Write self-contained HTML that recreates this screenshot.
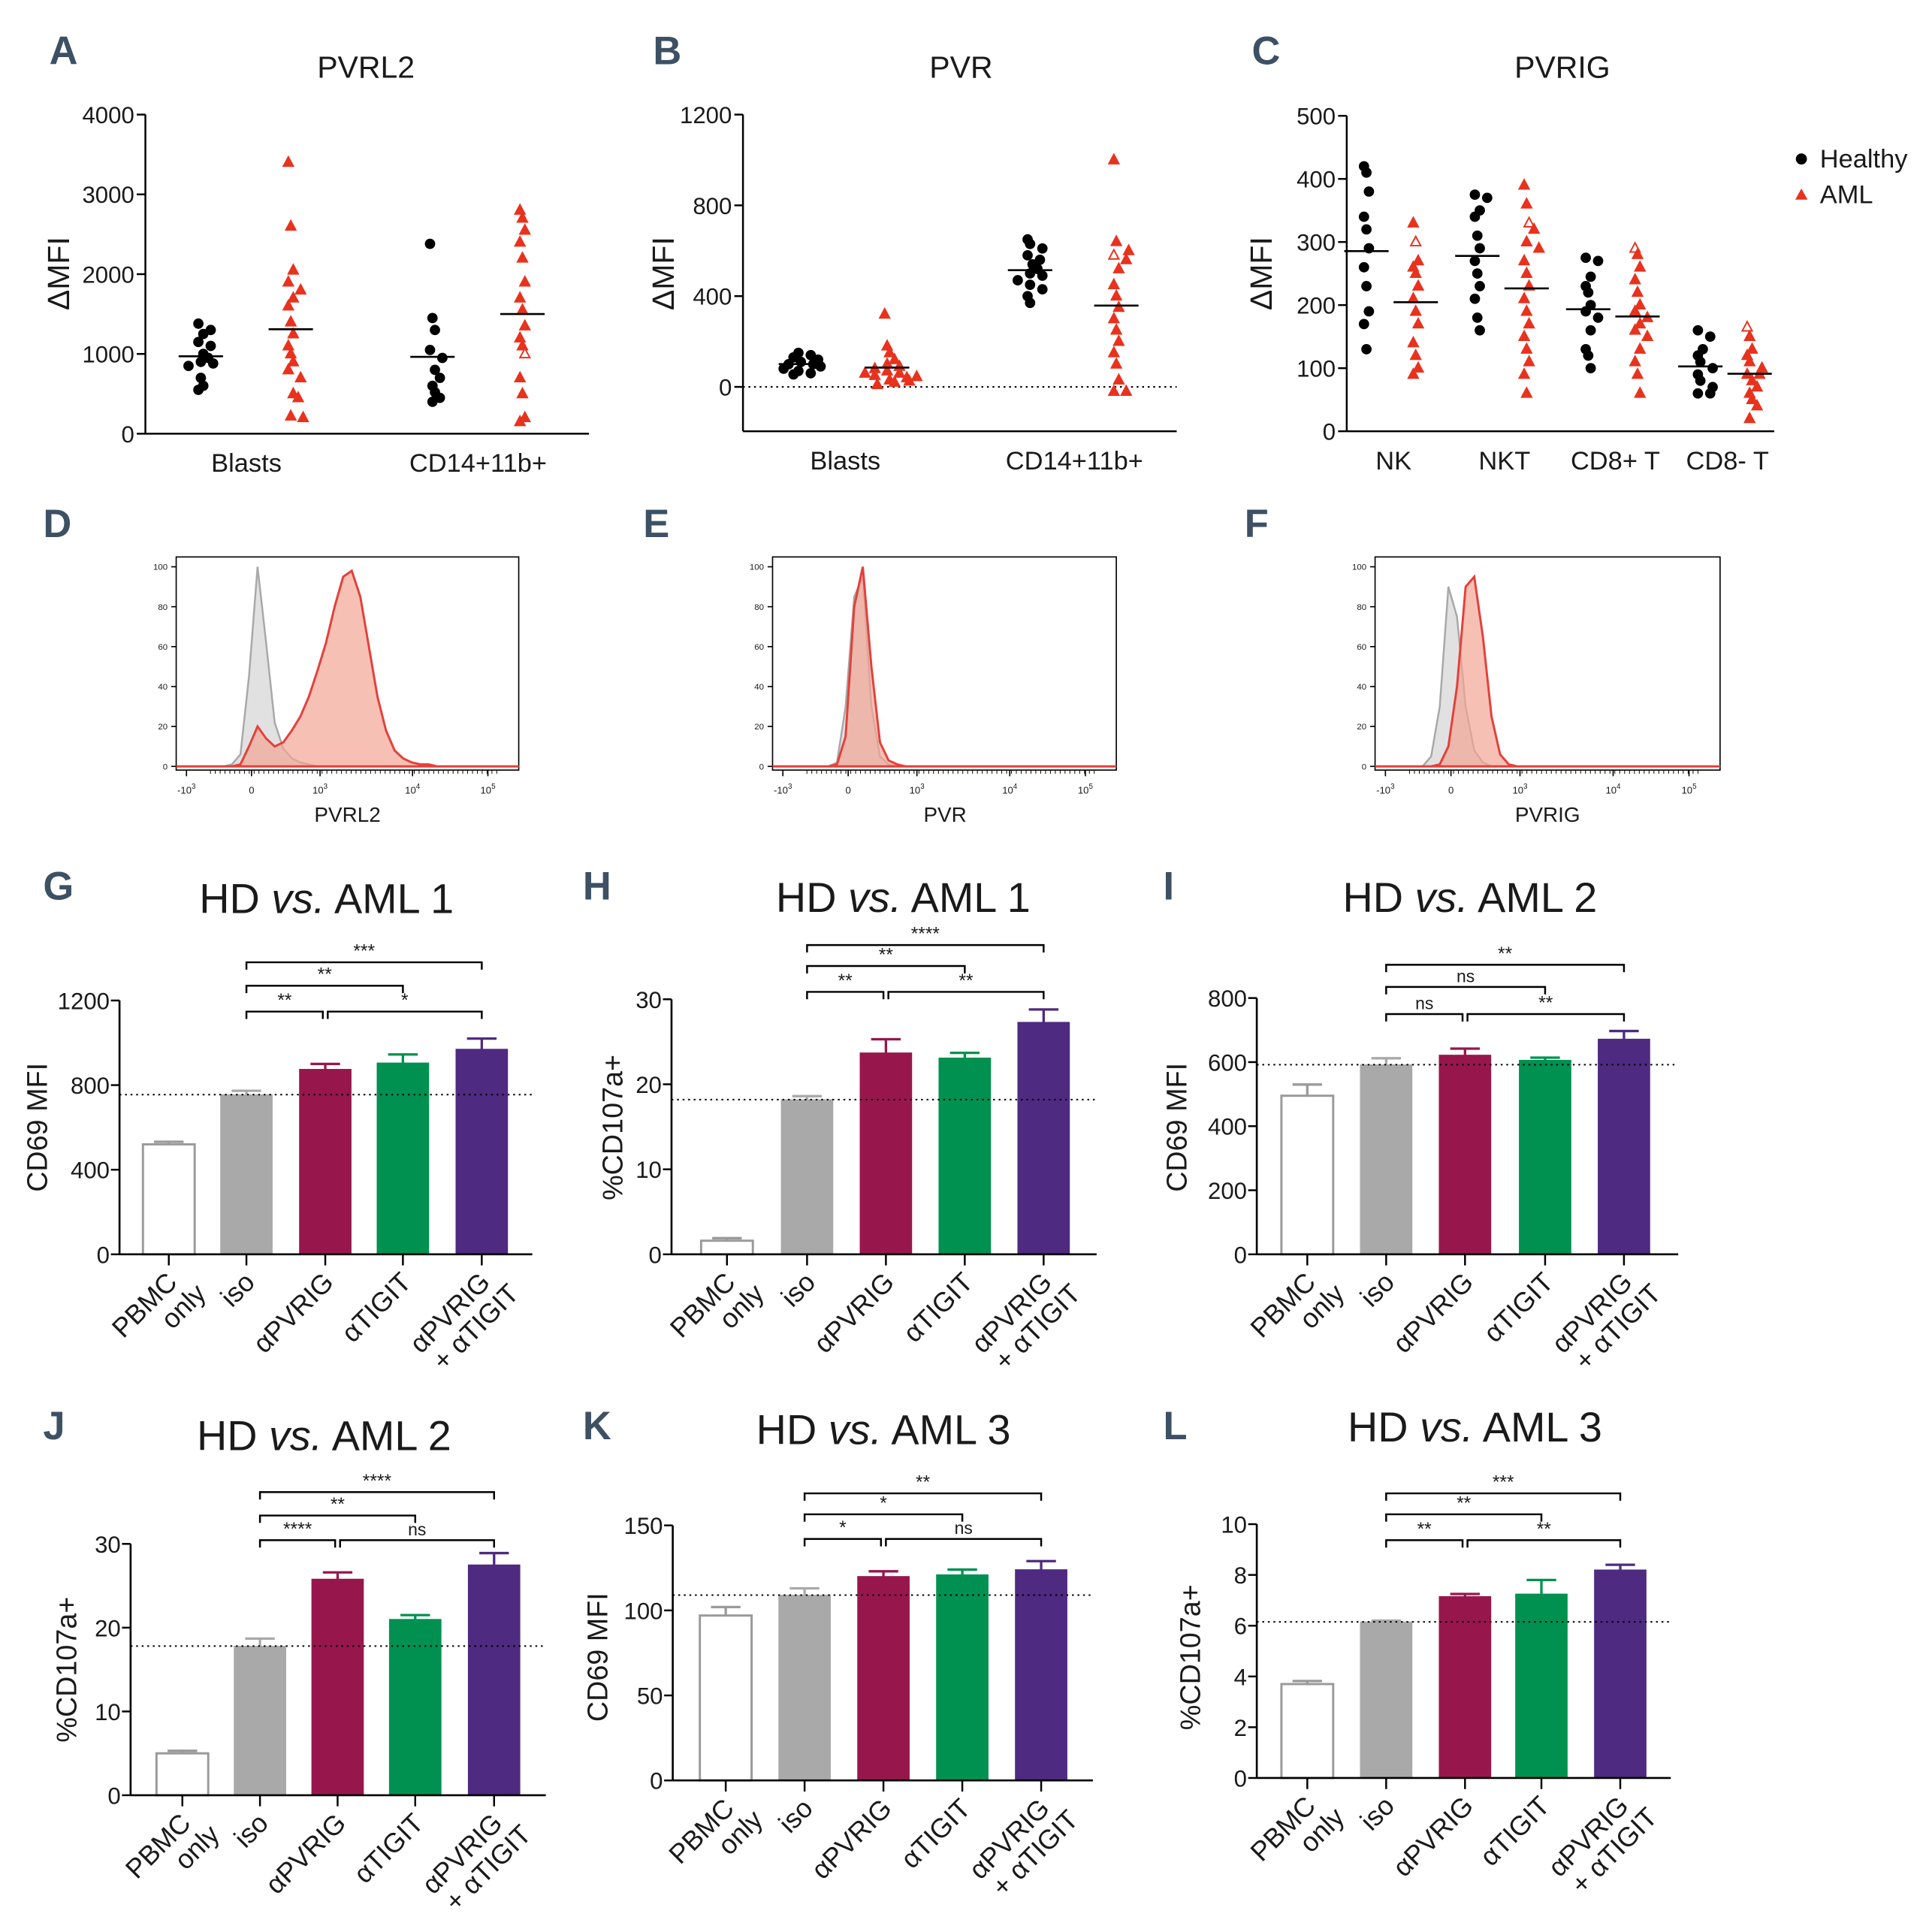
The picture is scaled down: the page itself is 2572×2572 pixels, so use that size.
<!DOCTYPE html>
<html><head><meta charset="utf-8"><style>
html,body{margin:0;padding:0;background:#fff}
svg{display:block}
text{font-family:"Liberation Sans",sans-serif;fill:#1a1a1a}
.let{font-weight:bold;fill:#3d5064;font-size:32px}
</style></head><body>
<svg id="fig" xmlns="http://www.w3.org/2000/svg" width="2572" height="2572" viewBox="0 0 1568 1568">
<text class="let" x="40" y="52">A</text>
<text class="let" x="530" y="52">B</text>
<text class="let" x="1016" y="52">C</text>
<text class="let" x="35" y="436">D</text>
<text class="let" x="522" y="436">E</text>
<text class="let" x="1010" y="436">F</text>
<text class="let" x="35" y="730">G</text>
<text class="let" x="473" y="730">H</text>
<text class="let" x="944" y="730">I</text>
<text class="let" x="35" y="1168">J</text>
<text class="let" x="473" y="1168">K</text>
<text class="let" x="944" y="1168">L</text>
<g>
<circle cx="1462" cy="129" r="4.5" fill="#000"/>
<text x="1477" y="136" font-size="21">Healthy</text>
<polygon points="1462,153 1467,162 1457,162" fill="#e8321e"/>
<text x="1477" y="165" font-size="21">AML</text>
</g>
</svg>
<script>
// ---------- Scatter data ----------
const A_cats=["Blasts","CD14+11b+"];
const A_healthy=[[1380,1300,1250,1150,1100,1000,950,900,880,850,700,600,550],[2380,1450,1300,1050,950,800,700,600,520,450,400]];
const A_aml=[[3400,2600,2050,1900,1800,1700,1600,1400,1250,1100,1000,900,800,700,500,450,220,200],[2800,2700,2550,2400,2200,1900,1700,1550,1350,1200,1100,1000,700,500,200,150]];
const A_open=[[],[1000]];
const A_ticks=[0,1000,2000,3000,4000];
const B_cats=["Blasts","CD14+11b+"];
const B_healthy=[[150,140,130,120,110,100,100,90,80,70,60,55],[650,630,610,580,560,540,520,500,490,470,450,430,400,370]];
const B_aml=[[320,180,150,120,100,90,80,70,60,50,40,30,20,10,25,60,45],[1000,640,600,580,560,520,450,400,350,300,250,200,150,100,30,-20,-20]];
const B_open=[[],[580]];
const B_ticks=[0,400,800,1200];
const C_cats=["NK","NKT","CD8+ T","CD8- T"];
const C_healthy=[[420,410,380,340,320,290,260,230,190,170,130],[375,370,350,340,310,290,270,250,230,210,180,160],[275,270,245,230,220,200,190,180,160,130,120,100],[160,150,130,120,110,100,90,80,70,60,60]];
const C_aml=[[330,300,270,260,250,230,210,190,170,140,120,100,90],[390,360,330,320,300,290,270,250,230,210,190,170,150,130,110,90,60],[290,280,260,240,220,200,190,180,170,160,150,130,110,90,60],[165,150,130,120,110,100,90,90,80,70,60,50,40,20]];
const C_open=[[300],[330],[290],[165]];
const C_ticks=[0,100,200,300,400,500];
// ---------- Histogram data (40 bins) ----------
const D_grey=[0,0,0,0,0,0,1,6,45,100,62,22,9,4,2,1,0,0,0,0,0,0,0,0,0,0,0,0,0,0,0,0,0,0,0,0,0,0,0,0];
const D_red=[0,0,0,0,0,0,0,1,10,20,14,10,12,18,25,35,48,62,80,95,98,85,60,35,18,8,4,2,1,1,0,0,0,0,0,0,0,0,0,0];
const E_grey=[0,0,0,0,0,0,0,2,30,85,95,30,5,1,0,0,0,0,0,0,0,0,0,0,0,0,0,0,0,0,0,0,0,0,0,0,0,0,0,0];
const E_red=[0,0,0,0,0,0,0,1,15,80,100,50,12,3,1,0,0,0,0,0,0,0,0,0,0,0,0,0,0,0,0,0,0,0,0,0,0,0,0,0];
const F_grey=[0,0,0,0,0,0,5,30,90,75,30,8,2,0,0,0,0,0,0,0,0,0,0,0,0,0,0,0,0,0,0,0,0,0,0,0,0,0,0,0];
const F_red=[0,0,0,0,0,0,0,1,10,40,90,95,65,25,6,1,0,0,0,0,0,0,0,0,0,0,0,0,0,0,0,0,0,0,0,0,0,0,0,0];
const H_yticks=[0,20,40,60,80,100];
// ---------- Bar data ----------
const barCats=["PBMC|only","iso","αPVRIG","αTIGIT","αPVRIG|+ αTIGIT"];
const G_vals=[520,755,875,905,970], G_err=[12,18,25,40,50], G_ticks=[0,400,800,1200];
const H_vals=[1.6,18.2,23.7,23.1,27.3], H_err=[0.3,0.4,1.6,0.6,1.5], H_ticks=[0,10,20,30];
const I_vals=[495,592,622,606,672], I_err=[35,20,20,8,25], I_ticks=[0,200,400,600,800];
const J_vals=[5,17.8,25.8,21,27.5], J_err=[0.3,0.9,0.8,0.5,1.4], J_ticks=[0,10,20,30];
const K_vals=[97,109,120,121,124], K_err=[5,4,3,3,5], K_ticks=[0,50,100,150];
const L_vals=[3.7,6.15,7.15,7.25,8.2], L_err=[0.12,0.05,0.1,0.55,0.2], L_ticks=[0,2,4,6,8,10];
const G_sig=["**","*","**","***"], H_sig=["**","**","**","****"], I_sig=["ns","**","ns","**"];
const J_sig=["****","ns","**","****"], K_sig=["*","ns","*","**"], L_sig=["**","**","**","***"];

const NS="http://www.w3.org/2000/svg";
const svg=document.getElementById('fig');
function el(tag,attrs,parent,txt){const e=document.createElementNS(NS,tag);for(const k in attrs)e.setAttribute(k,attrs[k]);if(txt!==undefined)e.textContent=txt;(parent||svg).appendChild(e);return e;}
function grp(name){const g=el('g',{});return g;}

// ---------- Scatter panels ----------
function scatter(name,title,titleX,ax,cats,healthy,aml,open,ticks,catLabelY,catXs,offH,offA,dotted,ylab,ylabY,ylabX){
  const g=grp(name);
  const y=v=>ax.y0+(v-ax.v0)*(ax.y1-ax.y0)/(ax.v1-ax.v0);
  el('text',{x:titleX,y:63,'font-size':25,'text-anchor':'middle'},g,title);
  el('line',{x1:ax.x,y1:ax.top,x2:ax.x,y2:ax.bottom,stroke:'#000','stroke-width':1.5},g);
  el('line',{x1:ax.x,y1:ax.bottom,x2:ax.right,y2:ax.bottom,stroke:'#000','stroke-width':1.5},g);
  ticks.forEach(t=>{el('line',{x1:ax.x-7,y1:y(t),x2:ax.x,y2:y(t),stroke:'#000','stroke-width':1.5},g);
    el('text',{x:ax.x-9,y:y(t)+7,'font-size':19,'text-anchor':'end'},g,String(t));});
  if(dotted) el('line',{x1:ax.x,y1:y(0),x2:ax.right,y2:y(0),stroke:'#000','stroke-width':1.3,'stroke-dasharray':'1.5,3'},g);
  el('text',{x:0,y:0,'font-size':25,'text-anchor':'middle',transform:`translate(${ylabX},${ylabY}) rotate(-90)`},g,ylab);
  cats.forEach((c,ci)=>{
    const cx=catXs[ci];
    el('text',{x:cx,y:catLabelY,'font-size':21,'text-anchor':'middle'},g,c);
    const draw=(arr,off,isAml)=>{
      const gx=cx+off; let mean=arr.reduce((a,b)=>a+b,0)/arr.length;
      const cnt={};
      arr.forEach((v,i)=>{
        const key=Math.round(y(v)/8); cnt[key]=(cnt[key]||0)+1;
        const k=cnt[key]-1; const jx=gx+((k%2?1:-1)*Math.ceil(k/2)*8)+((i%3)-1)*2;
        const pt = isAml ? el('polygon',{points:`${jx},${y(v)-4.5} ${jx+4},${y(v)+3} ${jx-4},${y(v)+3}`,fill:(open[ci].includes(v)?'#fff':'#e8321e'),stroke:'#e8321e','stroke-width':1.2},g)
                         : el('circle',{cx:jx,cy:y(v),r:4.2,fill:'#000'},g);
        
        
      });
      const m=el('line',{x1:gx-18,y1:y(mean),x2:gx+18,y2:y(mean),stroke:'#000','stroke-width':1.6},g);
      
      
    };
    draw(healthy[ci],offH,false); draw(aml[ci],offA,true);
  });
}
scatter('panel-a-pvrl2','PVRL2',297,{x:118,top:93,bottom:352,right:478,y0:352,y1:93,v0:0,v1:4000},A_cats,A_healthy,A_aml,A_open,A_ticks,383,[200,388],-37,36,false,'ΔMFI',222,56);
scatter('panel-b-pvr','PVR',780,{x:603,top:93,bottom:350,right:955,y0:314,y1:93,v0:0,v1:1200},B_cats,B_healthy,B_aml,B_open,B_ticks,381,[686,872],-36,34,true,'ΔMFI',222,547);
scatter('panel-c-pvrig','PVRIG',1268,{x:1093,top:94,bottom:350,right:1440,y0:350,y1:94,v0:0,v1:500},C_cats,C_healthy,C_aml,C_open,C_ticks,381,[1131,1221,1311,1402],-22,18,false,'ΔMFI',222,1032);

// ---------- Histograms ----------
function hist(name,x0,x1,grey,red,label,labelX){
  const g=grp(name);const top=452,bot=625;
  el('rect',{x:x0,y:top,width:x1-x0,height:bot-top,fill:'none',stroke:'#000','stroke-width':1},g);
  const yy=v=>622-v*1.62; const bw=(x1-x0)/grey.length;
  const path=arr=>{let d=`M${x0},${yy(0)}`;arr.forEach((v,i)=>{d+=` L${x0+(i+0.5)*bw},${yy(v)}`;});return d+` L${x1},${yy(0)} Z`;};
  const gp=el('path',{d:path(grey),fill:'#d9d9d9','fill-opacity':0.8,stroke:'#a8a8a8','stroke-width':1.5},g);
  
  
  const rp=el('path',{d:path(red),fill:'#f2a595','fill-opacity':0.7,stroke:'#e4403a','stroke-width':1.8},g);
  
  
  H_yticks.forEach(t=>{el('line',{x1:x0-4,y1:yy(t),x2:x0,y2:yy(t),stroke:'#000'},g);
    el('text',{x:x0-7,y:yy(t)+2.5,'font-size':7,'text-anchor':'end'},g,String(t));});
  const w=x1-x0;
  [[0.03,'-10','3'],[0.22,'0',''],[0.42,'10','3'],[0.69,'10','4'],[0.91,'10','5']].forEach(([f,b,s])=>{
    const tx=x0+f*w; el('line',{x1:tx,y1:bot,x2:tx,y2:bot+5,stroke:'#000'},g);
    const t=el('text',{x:tx,y:bot+19,'font-size':8,'text-anchor':'middle'},g,b);
    if(s){el('tspan',{dy:-4,'font-size':6},t,s);}
  });
  for(let i=0;i<60;i++){const tx=x0+0.1*w+i*(w*0.85/60);el('line',{x1:tx,y1:bot,x2:tx,y2:bot+3,stroke:'#000','stroke-width':0.6},g);}
  el('text',{x:labelX,y:667,'font-size':17,'text-anchor':'middle'},g,label);
}
hist('panel-d-pvrl2-histogram',143,421,D_grey,D_red,'PVRL2',282);
hist('panel-e-pvr-histogram',627,906,E_grey,E_red,'PVR',767);
hist('panel-f-pvrig-histogram',1116,1396,F_grey,F_red,'PVRIG',1256);

// ---------- Bar panels ----------
const barFill=['#fff','#a9a9a9','#97174d','#009150','#4e2a80'];
const barStroke=['#9a9a9a','#a9a9a9','#97174d','#009150','#4e2a80'];
function bars(name,o,vals,errs,ticks,sig){
  const g=grp(name);
  const y=v=>o.y0+(v-o.v0)*(o.y1-o.y0)/(o.v1-o.v0);
  const t=el('text',{x:o.tx,y:o.ty,'font-size':34,'text-anchor':'middle'},g);
  el('tspan',{},t,'HD ');el('tspan',{'font-style':'italic'},t,'vs.');el('tspan',{},t,' '+o.title);
  el('text',{x:0,y:0,'font-size':23,'text-anchor':'middle',transform:`translate(${o.ylx},${o.yly}) rotate(-90)`},g,o.ylab);
  const base=y(0);
  vals.forEach((v,i)=>{
    const cx=o.cx[i];
    const r=el('rect',{x:cx-21,y:y(v),width:42,height:base-y(v),fill:barFill[i],stroke:barStroke[i],'stroke-width':i==0?1.8:0.5},g);
    
    
    const e=el('path',{d:`M${cx},${y(v)} V${y(v+errs[i])} M${cx-12},${y(v+errs[i])} H${cx+12}`,stroke:barStroke[i],'stroke-width':2,fill:'none'},g);
    
    
    el('line',{x1:cx,y1:base,x2:cx,y2:base+9,stroke:'#000','stroke-width':1.5},g);
    const lines=barCats[i].split('|');
    const lt=el('text',{'font-size':22,'text-anchor':'end',transform:`translate(${cx+8},${base+24}) rotate(-45)`},g);
    lines.forEach((ln,k)=>el('tspan',{x:k*10,y:k*23},lt,ln));
  });
  el('line',{x1:o.x,y1:y(vals[1]),x2:o.right,y2:y(vals[1]),stroke:'#000','stroke-width':1.2,'stroke-dasharray':'1.5,3'},g);
  el('line',{x1:o.x,y1:y(ticks[ticks.length-1]),x2:o.x,y2:base,stroke:'#000','stroke-width':1.6},g);
  el('line',{x1:o.x,y1:base,x2:o.right,y2:base,stroke:'#000','stroke-width':1.6},g);
  ticks.forEach(tk=>{el('line',{x1:o.x-7,y1:y(tk),x2:o.x,y2:y(tk),stroke:'#000','stroke-width':1.5},g);
    el('text',{x:o.x-8,y:y(tk)+7,'font-size':19,'text-anchor':'end'},g,String(tk));});
  const br=(a,b,yy,lab)=>{const x1=o.cx[a]+(a==2?2:0),x2=o.cx[b]-(b==2?2:0);
    el('path',{d:`M${x1},${yy+6} V${yy} H${x2} V${yy+6}`,stroke:'#000','stroke-width':1.5,fill:'none'},g);
    el('text',{x:(x1+x2)/2,y:yy-4,'font-size':lab=='ns'?14:15,'text-anchor':'middle'},g,lab);};
  br(1,2,o.b1,sig[0]);br(2,4,o.b1,sig[1]);br(1,3,o.b2,sig[2]);br(1,4,o.b3,sig[3]);
}
bars('panel-g-cd69-aml1',{x:97,right:432,y0:1018,y1:812,v0:0,v1:1200,cx:[137,200,264,327,391],tx:265,ty:741,title:'AML 1',ylab:'CD69 MFI',ylx:38,yly:915,b1:821,b2:800,b3:781},G_vals,G_err,G_ticks,G_sig);
bars('panel-h-cd107a-aml1',{x:545,right:890,y0:1018,y1:811,v0:0,v1:30,cx:[590,655,719,783,847],tx:733,ty:740,title:'AML 1',ylab:'%CD107a+',ylx:505,yly:915,b1:805,b2:784,b3:767},H_vals,H_err,H_ticks,H_sig);
bars('panel-i-cd69-aml2',{x:1020,right:1362,y0:1018,y1:810,v0:0,v1:800,cx:[1061,1125,1189,1254,1318],tx:1193,ty:740,title:'AML 2',ylab:'CD69 MFI',ylx:963,yly:915,b1:823,b2:801,b3:783},I_vals,I_err,I_ticks,I_sig);
bars('panel-j-cd107a-aml2',{x:106,right:443,y0:1457,y1:1253,v0:0,v1:30,cx:[148,211,274,337,401],tx:263,ty:1177,title:'AML 2',ylab:'%CD107a+',ylx:62,yly:1355,b1:1250,b2:1230,b3:1211},J_vals,J_err,J_ticks,J_sig);
bars('panel-k-cd69-aml3',{x:546,right:887,y0:1445,y1:1238,v0:0,v1:150,cx:[589,653,717,781,845],tx:717,ty:1172,title:'AML 3',ylab:'CD69 MFI',ylx:493,yly:1345,b1:1249,b2:1229,b3:1212},K_vals,K_err,K_ticks,K_sig);
bars('panel-l-cd107a-aml3',{x:1020,right:1356,y0:1443,y1:1237,v0:0,v1:10,cx:[1061,1125,1189,1251,1315],tx:1197,ty:1170,title:'AML 3',ylab:'%CD107a+',ylx:974,yly:1345,b1:1250,b2:1229,b3:1212},L_vals,L_err,L_ticks,L_sig);
</script>
</body></html>
